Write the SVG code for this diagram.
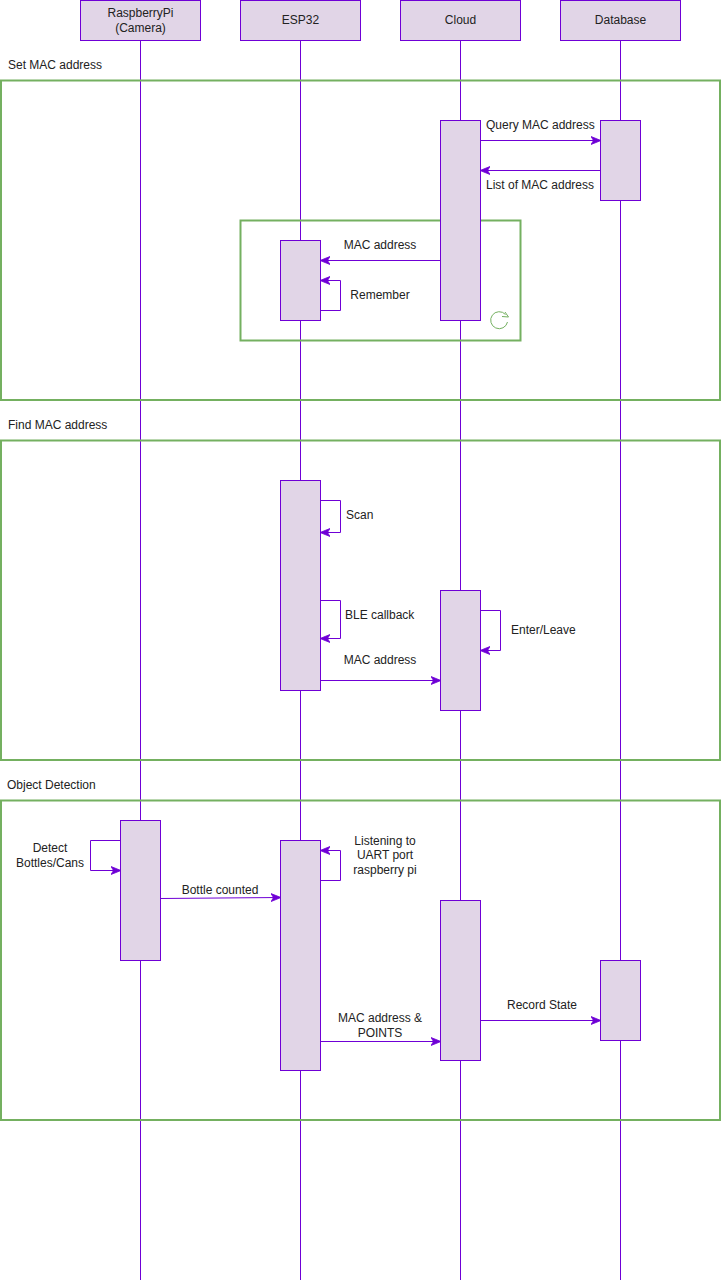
<svg xmlns="http://www.w3.org/2000/svg" width="723" height="1281" viewBox="0 0 723 1281">
<style>
.hdr{fill:#e1d5e7;stroke:#6f00d6;stroke-width:1}
.act{fill:#e1d5e7;stroke:#6f00d6;stroke-width:1}
.life{stroke:#6f00d6;stroke-width:1;fill:none}
.frame{fill:none;stroke:#74b060;stroke-width:2}
.msg{stroke:#6f00d6;stroke-width:1;fill:none;marker-end:url(#arr)}
text{font-family:"Liberation Sans",Arial,sans-serif;font-size:12px;fill:#222}
.c{text-anchor:middle}
</style>
<defs>
<marker id="arr" viewBox="0 0 10 10" refX="9" refY="5" markerWidth="10" markerHeight="10" markerUnits="userSpaceOnUse" orient="auto">
<path d="M0,1 L10,5 L0,9 L2.5,5 Z" fill="#6f00d6" stroke="#6f00d6" stroke-width="0.8"/>
</marker>
</defs>
<rect width="723" height="1281" fill="#ffffff"/>

<g id="lifelines">
<line class="life" x1="140.5" y1="40" x2="140.5" y2="1280"/>
<line class="life" x1="300.5" y1="40" x2="300.5" y2="1280"/>
<line class="life" x1="460.5" y1="40" x2="460.5" y2="1280"/>
<line class="life" x1="620.5" y1="40" x2="620.5" y2="1280"/>
</g>

<g id="frames">
<g id="frame-set-mac">
<rect class="frame" x="1" y="80.5" width="719" height="319.5"/>
<text x="8" y="69">Set MAC address</text>
</g>
<g id="frame-loop">
<rect class="frame" x="240.5" y="220.5" width="280" height="120"/>
<path d="M507.5,322 A8.5,8.5 0 1 1 505.5,314.5" fill="none" stroke="#74b060" stroke-width="1"/>
<path d="M505,312 L508.5,317 L502,316.5" fill="none" stroke="#74b060" stroke-width="1"/>
</g>
<g id="frame-find-mac">
<rect class="frame" x="1" y="440.5" width="719" height="319.5"/>
<text x="8" y="429">Find MAC address</text>
</g>
<g id="frame-object">
<rect class="frame" x="1" y="800.5" width="719" height="319.5"/>
<text x="7" y="789">Object Detection</text>
</g>
</g>

<g id="node-rpi">
<rect class="hdr" x="80.5" y="0.5" width="120" height="40"/>
<text class="c" x="140.5" y="17">RaspberryPi</text>
<text class="c" x="140.5" y="32">(Camera)</text>
</g>
<g id="node-esp32">
<rect class="hdr" x="240.5" y="0.5" width="120" height="40"/>
<text class="c" x="300.5" y="24">ESP32</text>
</g>
<g id="node-cloud">
<rect class="hdr" x="400.5" y="0.5" width="120" height="40"/>
<text class="c" x="460.5" y="24">Cloud</text>
</g>
<g id="node-database">
<rect class="hdr" x="560.5" y="0.5" width="120" height="40"/>
<text class="c" x="620.5" y="24">Database</text>
</g>

<g id="activations">
<rect id="act-cloud-1" class="act" x="440.5" y="120.5" width="40" height="200"/>
<rect id="act-db-1" class="act" x="600.5" y="120.5" width="40" height="80"/>
<rect id="act-esp-1" class="act" x="280.5" y="240.5" width="40" height="80"/>
<rect id="act-esp-2" class="act" x="280.5" y="480.5" width="40" height="210"/>
<rect id="act-cloud-2" class="act" x="440.5" y="590.5" width="40" height="120"/>
<rect id="act-rpi-3" class="act" x="120.5" y="820.5" width="40" height="140"/>
<rect id="act-esp-3" class="act" x="280.5" y="840.5" width="40" height="230"/>
<rect id="act-cloud-3" class="act" x="440.5" y="900.5" width="40" height="160"/>
<rect id="act-db-3" class="act" x="600.5" y="960.5" width="40" height="80"/>
</g>

<g id="connectors">
<path class="msg" d="M480.5,140.5 L600,140.5"/>
<path class="msg" d="M600.5,170.5 L481,170.5"/>
<path class="msg" d="M440.5,260.5 L321,260.5"/>
<path class="msg" d="M320.5,310.5 L340.5,310.5 L340.5,280.5 L321,280.5"/>
<path class="msg" d="M320.5,500.5 L340.5,500.5 L340.5,532.5 L321,532.5"/>
<path class="msg" d="M320.5,600.5 L340.5,600.5 L340.5,638.5 L321,638.5"/>
<path class="msg" d="M480.5,610.5 L500.5,610.5 L500.5,650.5 L481,650.5"/>
<path class="msg" d="M320.5,680.5 L440,680.5"/>
<path class="msg" d="M120.5,840.5 L90.5,840.5 L90.5,870.5 L120,870.5"/>
<path class="msg" d="M160.5,898.5 L280,897.5"/>
<path class="msg" d="M320.5,880.5 L340.5,880.5 L340.5,850.5 L321,850.5"/>
<path class="msg" d="M320.5,1041.5 L440,1041.5"/>
<path class="msg" d="M480.5,1020.5 L600,1020.5"/>
</g>

<g id="labels">
<text x="486" y="129">Query MAC address</text>
<text x="486" y="189">List of MAC address</text>
<text class="c" x="380" y="249">MAC address</text>
<text class="c" x="380" y="299">Remember</text>
<text x="346" y="519">Scan</text>
<text x="345" y="619">BLE callback</text>
<text x="511" y="634">Enter/Leave</text>
<text class="c" x="380" y="664">MAC address</text>
<text class="c" x="50" y="852">Detect</text>
<text class="c" x="50" y="867">Bottles/Cans</text>
<text class="c" x="220" y="894">Bottle counted</text>
<text class="c" x="385" y="845">Listening to</text>
<text class="c" x="385" y="859">UART port</text>
<text class="c" x="385" y="874">raspberry pi</text>
<text class="c" x="380" y="1022">MAC address &amp;</text>
<text class="c" x="380" y="1037">POINTS</text>
<text class="c" x="542" y="1009">Record State</text>
</g>
</svg>
